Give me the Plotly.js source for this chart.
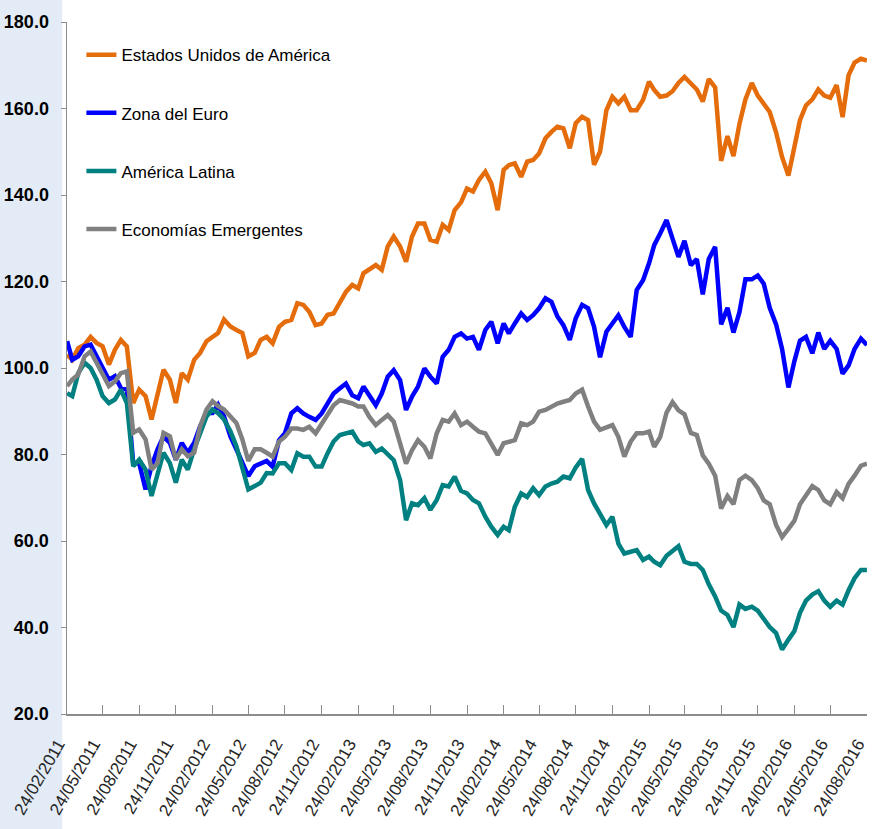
<!DOCTYPE html>
<html>
<head>
<meta charset="utf-8">
<script src="https://cdn.plot.ly/plotly-3.0.1.min.js"></script>
<style>
  html, body { margin: 0; padding: 0; background: #ffffff; }
  #chart { width: 872px; height: 829px; }
</style>
</head>
<body>
<div id="chart"></div>
<script>
// Sampling dates: the 24th of every month and the 9th in between, 24/02/2011 .. 24/08/2016
const dates = [];
for (let m = 0; m <= 66; m++) {
  const y = 2011 + Math.floor((1 + m) / 12);
  const mo = ((1 + m) % 12) + 1;
  const mm = String(mo).padStart(2, '0');
  if (m > 0) dates.push(y + '-' + mm + '-09');
  dates.push(y + '-' + mm + '-24');
}

const seriesNames = ['Estados Unidos de América', 'Zona del Euro', 'América Latina', 'Economías Emergentes'];

const eeuu = [103.1,101.9,104.6,105.4,107.2,105.8,105,100.8,104.2,106.5,105,91.9,95,93.5,88.1,94.2,99.6,97.3,91.9,98.8,
  97.3,101.9,103.5,106.2,107.2,108.1,111.2,109.6,108.8,108.1,102.7,103.5,106.5,107.2,105.7,109.5,110.7,111.1,115,114.6,
  113,109.9,110.3,112.3,112.6,115.3,117.6,119.2,118.4,121.9,122.7,123.8,122.7,128.1,130.4,128.1,124.6,130.4,133.4,133.4,
  129.6,129.2,133.1,131.9,136.5,138.3,141.5,140.8,143.5,145.4,142.7,136.5,145.8,146.9,147.3,144.2,147.7,148.1,149.6,153.1,
  154.6,155.8,155.4,150.8,156.6,158.1,157.3,147,150,159.6,162.7,161.2,162.7,159.6,159.6,162,166.2,164.3,162.7,163,
  164,165.9,167.3,165.9,164.4,161.6,166.8,164.9,147.9,153.6,149,156.4,162.1,165.9,163,161.1,159.2,154.5,148.8,144.5,
  150.7,157.3,160.7,162.1,164.4,163,162.5,165.4,158,167.7,170.6,171.5,171.1];

const euro = [106.2,101.9,102.7,105,105.4,102.7,100.4,97.3,98.1,95.4,95,78,78,71.9,77.3,81.2,84.2,82.7,78.8,82.7,
  80.4,82.7,86.5,89.6,89.6,91.5,88.8,84.2,81.2,78,75,77.3,78,78.5,77.2,83.3,84.9,89.5,90.7,89.5,
  88.7,88,89.5,91.8,94.1,95.3,96.4,93.7,93,95.7,93.4,91.4,94.1,98,99.5,97.2,90.3,93.4,95.7,99.9,
  98,96.4,102.6,104.2,107.2,108,106.8,107.2,104.2,108.8,110.7,105.7,110.3,108,110.3,112.6,111.1,112.2,113.8,116.1,
  115.3,111.9,109.9,106.5,111.5,114.6,113.8,109.5,102.5,108.4,110.3,112.2,109.5,107.2,118,120.3,124.2,128.4,131.1,134.2,
  129.9,125.7,129.4,123.8,125.2,117,125.2,128,110.1,113.9,108.2,112.9,120.5,120.5,121.4,119.5,113.9,110.1,104.4,95.5,
  101.6,106.3,107.2,103.4,108.2,104.4,106.3,104.4,98.7,100.6,104.4,106.8,105.3];

const latam = [94.2,93.5,98.8,101.2,100,97.3,93.5,91.9,92.7,95,91.9,77.3,78.8,76.5,70.4,75,80.4,78,73.5,78.8,
  76.5,81.2,84.6,88.8,90.4,89.6,88.1,85.4,81.9,76.5,71.9,72.7,73.5,75.7,75.6,78,78,76.4,80.3,79.5,
  79.5,77.2,77.2,80.3,83,84.5,84.9,85.3,83,82.2,82.6,80.6,81.4,79.9,78.7,74.1,64.8,68.7,68.3,69.9,
  67.2,69.5,72.9,72.6,74.9,71.6,71,69.5,68.7,65.6,63.3,61.4,63.3,62.5,67.9,71,70.2,72.2,70.6,72.6,
  73.3,73.7,74.9,74.5,77,79,71.8,68.7,66.4,63.7,65.6,59.4,57.1,57.5,57.9,55.6,56.4,55.2,54.4,56.6,
  57.6,58.8,55.2,54.7,54.7,53.3,50,47.2,43.9,42.9,40.1,45.3,44.3,44.8,43.9,42,40.1,38.7,34.9,37.2,
  39.2,43.4,46.2,47.6,48.4,46.2,44.8,46.2,45.3,48.6,51.4,53.3,53.3];

const emergentes = [95.8,97.3,98.5,102.7,103.8,101.2,98.8,95.8,96.9,98.8,99.2,85,85.8,83.5,76.5,78,85,84.2,78.8,81.2,
  79.6,80.4,86.5,90.4,92.3,91.2,90.4,88.8,87.3,83.5,78.5,81.2,81.2,80.4,79.5,83,84.1,86,86,85.7,
  86.4,84.9,87.2,89.5,91.4,92.6,92.2,91.8,91.1,91.1,88.7,86.8,88,89.1,87.6,82.6,77.9,81,83.3,81.8,
  79.1,84.9,88,87.6,89.5,86.8,87.6,86.4,85.3,84.9,82.6,79.9,82.6,83,83.3,87.2,86.8,87.6,89.9,90.3,
  91.1,91.8,92.2,92.6,94.1,95,91.1,87.6,85.7,86.4,86.8,84.1,79.5,83,84.9,84.9,85.3,81.8,84,89.7,
  92.1,90.2,89.3,85,84.5,79.8,77.9,75.1,67.5,70.4,68.5,74.1,75.1,74.1,72.2,69.4,68.5,63.7,60.9,62.8,
  64.7,68.5,70.4,72.7,71.8,69.4,68.5,71.3,69.9,73.2,75.1,77.4,77.9];

const tickDates = ['2011-02-24','2011-05-24','2011-08-24','2011-11-24','2012-02-24','2012-05-24','2012-08-24','2012-11-24',
  '2013-02-24','2013-05-24','2013-08-24','2013-11-24','2014-02-24','2014-05-24','2014-08-24','2014-11-24',
  '2015-02-24','2015-05-24','2015-08-24','2015-11-24','2016-02-24','2016-05-24','2016-08-24'];
const tickLabels = ['24/02/2011','24/05/2011','24/08/2011','24/11/2011','24/02/2012','24/05/2012','24/08/2012','24/11/2012',
  '24/02/2013','24/05/2013','24/08/2013','24/11/2013','24/02/2014','24/05/2014','24/08/2014','24/11/2014',
  '24/02/2015','24/05/2015','24/08/2015','24/11/2015','24/02/2016','24/05/2016','24/08/2016'];

const colors = ['#E46C0A', '#0000FF', '#008080', '#808080'];
const values = [eeuu, euro, latam, emergentes];

const sans = '"Liberation Sans", Arial, sans-serif';

const traces = values.map((v, k) => ({
  type: 'scatter',
  mode: 'lines',
  x: dates,
  y: v,
  name: seriesNames[k],
  legendgroup: 'g' + k,
  line: { color: colors[k], width: 4.5 }
}));

const layout = {
  width: 872,
  height: 829,
  margin: { l: 67, r: 5, t: 22, b: 115 },
  paper_bgcolor: '#ffffff',
  plot_bgcolor: '#ffffff',
  showlegend: true,
  legend: {
    x: 0.018, y: 0.978, xanchor: 'left', yanchor: 'top',
    bgcolor: 'rgba(0,0,0,0)',
    traceorder: 'grouped',
    tracegroupgap: 33,
    font: { family: sans, size: 17, color: '#000000' }
  },
  xaxis: {
    type: 'date',
    range: ['2011-02-23 18:00', '2016-08-24 06:00'],
    tickmode: 'array',
    tickvals: tickDates,
    ticktext: tickLabels,
    tickangle: -60,
    ticks: 'inside',
    ticklen: 9,
    tickcolor: '#8c8c8c',
    showline: true,
    linecolor: '#8c8c8c',
    linewidth: 1.5,
    showgrid: false,
    zeroline: false,
    ticklabeloverflow: 'allow',
    ticklabelstandoff: 12,
    ticklabelshift: -9,
    tickfont: { family: sans, size: 17, color: '#262626' }
  },
  yaxis: {
    range: [20, 180],
    tick0: 20,
    dtick: 20,
    tickformat: '.1f',
    ticks: 'outside',
    ticklen: 5,
    tickcolor: '#8c8c8c',
    showline: true,
    linecolor: '#8c8c8c',
    linewidth: 1.5,
    showgrid: false,
    zeroline: false,
    ticklabelstandoff: 8,
    tickfont: { family: sans, size: 18, color: '#000000', weight: 'bold' }
  },
  shapes: [{
    type: 'rect', xref: 'paper', yref: 'paper', layer: 'below',
    x0: -0.084, x1: -0.006, y0: -0.17, y1: 1.032,
    fillcolor: '#e2ebf6', line: { width: 0 }
  }]
};

Plotly.newPlot('chart', traces, layout, { staticPlot: true, displayModeBar: false });
</script>
</body>
</html>
